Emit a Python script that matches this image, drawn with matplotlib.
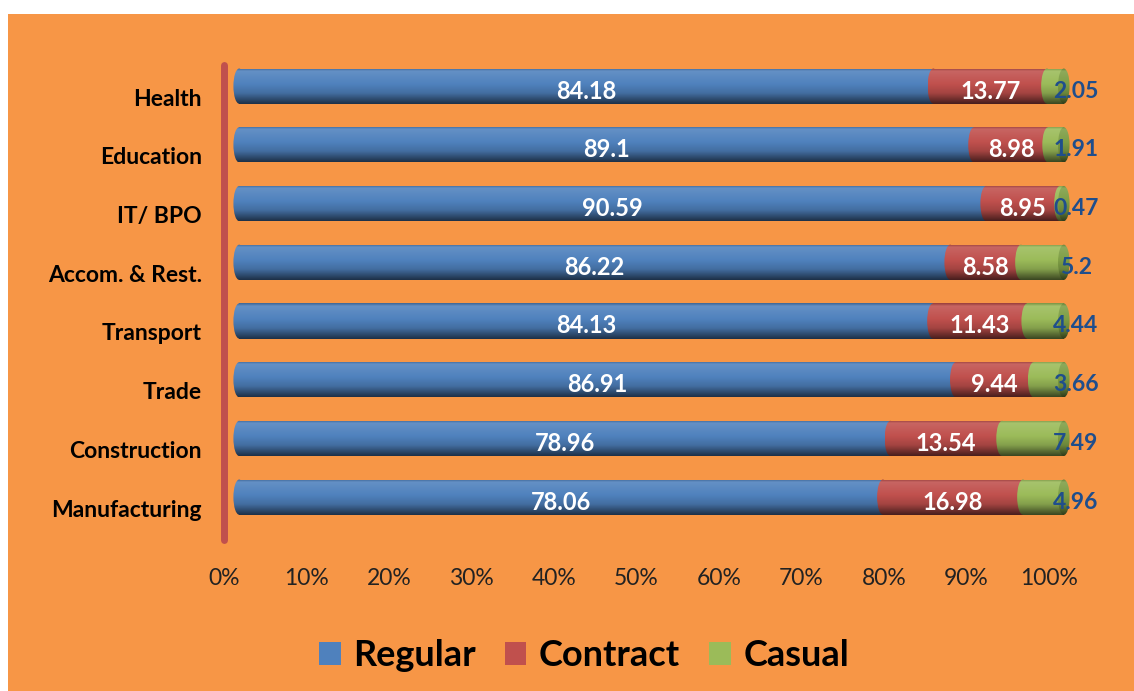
import numpy as np
import matplotlib.pyplot as plt
import matplotlib.transforms as mtransforms
from matplotlib.colors import to_rgb
from matplotlib.patches import Ellipse, Rectangle, Patch

plt.rcParams['font.family'] = ['Lato', 'DejaVu Sans']

# data, bottom row first
sectors = ['Manufacturing', 'Construction', 'Trade', 'Transport',
           'Accom. & Rest.', 'IT/ BPO', 'Education', 'Health']
regular = [78.06, 78.96, 86.91, 84.13, 86.22, 90.59, 89.1, 84.18]
contract = [16.98, 13.54, 9.44, 11.43, 8.58, 8.95, 8.98, 13.77]
casual = [4.96, 7.49, 3.66, 4.44, 5.2, 0.47, 1.91, 2.05]
series_names = ['Regular', 'Contract', 'Casual']
xticks = [0, 10, 20, 30, 40, 50, 60, 70, 80, 90, 100]

colors = ['#4F81BD', '#C0504D', '#9BBB59']
bg = '#F79646'
W, H = 1134, 691


def shade(hexcol, n=64):
    # vertical cylinder shading: thin dark rim, light band, base, dark bottom
    base = np.array(to_rgb(hexcol))
    light = base + (1 - base) * 0.12
    top = base * 0.8
    dark = base * 0.38
    t = np.linspace(0, 1, n)
    stops = [0, 0.08, 0.45, 0.7, 1.0]
    cols = [top, light, base, base * 0.85, dark]
    arr = np.stack([np.interp(t, stops, [c[k] for c in cols]) for k in range(3)], axis=-1)
    return np.clip(arr[:, None, :], 0, 1)


fig = plt.figure(figsize=(W / 100, H / 100), dpi=100, facecolor='white')
fig.patches.append(Rectangle((8 / W, 0), 1, 1 - 14 / H, transform=fig.transFigure,
                             facecolor=bg, edgecolor='none', zorder=-10))

ax = fig.add_axes([233 / W, 1 - 540 / H, 837 / W, 475 / H])
ax.patch.set_visible(False)

ypos = np.arange(len(sectors))
bh = 0.6
ew = 1.4  # width of the end ellipses in data units

data = np.array([regular, contract, casual])
totals = data.sum(axis=0)
shares = data / totals * 100

grads = [shade(c) for c in colors]
cap_grad = shade('#7E9E45')

down = mtransforms.offset_copy(ax.transData, fig=fig, x=0, y=-5, units='dots')
right = mtransforms.offset_copy(ax.transData, fig=fig, x=12, y=-5, units='dots')


def grad_patch(arr, extent, clip):
    im = ax.imshow(arr, extent=extent, aspect='auto', origin='upper',
                   interpolation='bilinear', zorder=2)
    im.set_clip_path(clip)
    return im


for i, y in enumerate(ypos):
    left = 0
    for j in range(3):
        w = shares[j, i]
        y0, y1 = y - bh / 2, y + bh / 2
        grad_patch(grads[j], [left, left + w, y0, y1],
                   Rectangle((left, y0), w, bh, transform=ax.transData))
        grad_patch(grads[j], [left - ew / 2, left + ew / 2, y0, y1],
                   Ellipse((left, y), ew, bh, transform=ax.transData))
        if j == 2:
            grad_patch(cap_grad, [left + w - ew / 2, left + w + ew / 2, y0, y1],
                       Ellipse((left + w, y), ew, bh, transform=ax.transData))
            ax.text(left + w, y, f'{data[j, i]:g}', transform=right, ha='center', va='center',
                    color='#1F4E8C', fontsize=16.5, fontweight='bold', zorder=5)
        else:
            ax.text(left + w / 2, y, f'{data[j, i]:g}', transform=down, ha='center', va='center',
                    color='white', fontsize=17, fontweight='bold', zorder=5)
        left += w

ax.set_xlim(-ew / 2 - 0.05, 100 + ew / 2 + 0.05)
ax.set_ylim(-0.73, len(sectors) - 1 + 0.36)

for s in ['top', 'right', 'bottom']:
    ax.spines[s].set_visible(False)
ax.spines['left'].set_position(('outward', 6.5))
ax.spines['left'].set_color('#C0504D')
ax.spines['left'].set_linewidth(5)
ax.spines['left'].set_capstyle('round')

ax.set_yticks(ypos, sectors, fontsize=16.5, fontweight='bold', color='black')
ax.set_xticks(xticks, [f'{v}%' for v in xticks], fontsize=16.5, color='#222222')
ax.tick_params(axis='y', length=0, pad=16)
ax.tick_params(axis='x', length=0, pad=20)

ydrop = mtransforms.ScaledTranslation(0, -11 / 100, fig.dpi_scale_trans)
for lab in ax.get_yticklabels():
    lab.set_transform(lab.get_transform() + ydrop)
xshift = mtransforms.ScaledTranslation(-15 / 100, 0, fig.dpi_scale_trans)
for lab in ax.get_xticklabels():
    lab.set_transform(lab.get_transform() + xshift)

handles = [Patch(facecolor=c) for c in colors]
fig.legend(handles, series_names, loc='center', bbox_to_anchor=(584 / W, 1 - 656 / H),
           ncol=3, frameon=False, prop=dict(weight='bold', size=26),
           handlelength=0.6, handleheight=0.6, handletextpad=0.35, columnspacing=0.8)

fig.savefig('out.png', dpi=100, facecolor=fig.get_facecolor())
